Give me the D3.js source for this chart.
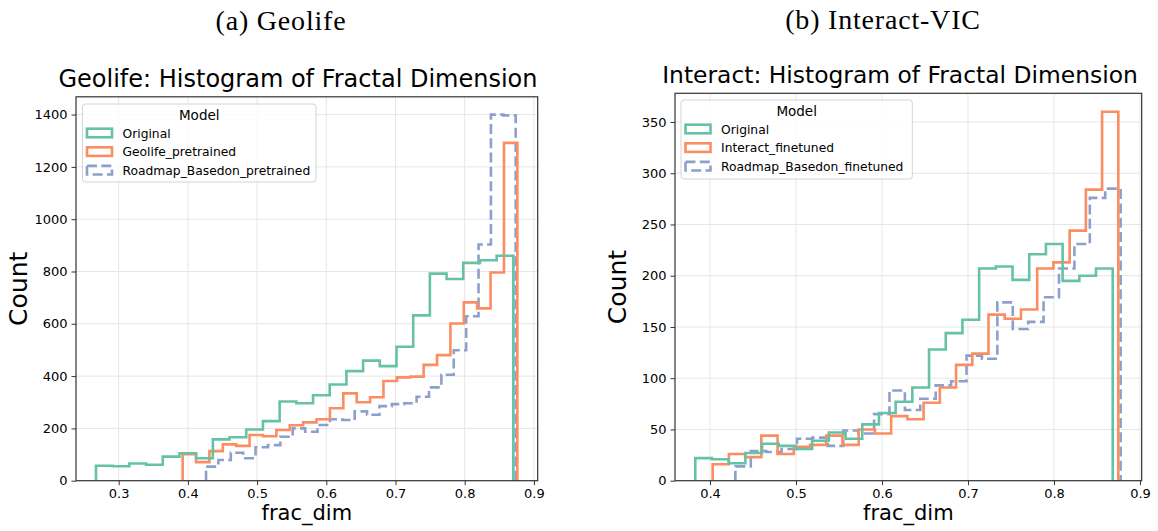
<!DOCTYPE html>
<html>
<head>
<meta charset="utf-8">
<script src="https://cdn.jsdelivr.net/npm/d3@7"></script>
<style>
  html, body { margin: 0; padding: 0; background: #fff; }
  svg { display: block; }
  text { font-family: "DejaVu Sans", sans-serif; fill: #000; }
  .caption { font-family: "Liberation Serif", "DejaVu Serif", serif; }
</style>
</head>
<body>
<svg id="chart" width="1158" height="531"></svg>
<script>
// ---- Geolife panel data ----
const geoSeries = ["Original", "Geolife_pretrained", "Roadmap_Basedon_pretrained"];
// bin range [first edge, last edge] for each series (25 equal-width bins)
const geoRanges = [[0.2672, 0.8703], [0.3924, 0.8761], [0.4262, 0.8737]];
const geoOriginal = [57, 55, 66, 61, 92, 105, 86, 158, 166, 196, 228, 303, 296, 327, 368, 419, 459, 438, 512, 632, 792, 771, 833, 843, 860];
const geoPretrained = [101, 71, 113, 139, 133, 175, 170, 194, 212, 223, 235, 277, 334, 300, 319, 381, 395, 398, 443, 480, 601, 682, 659, 796, 1292];
const geoRoadmap = [54, 79, 107, 86, 128, 136, 168, 200, 187, 213, 235, 232, 265, 252, 285, 293, 296, 321, 357, 405, 499, 629, 903, 1400, 1397];
const geoXTicks = [0.3, 0.4, 0.5, 0.6, 0.7, 0.8, 0.9];
const geoYTicks = [0, 200, 400, 600, 800, 1000, 1200, 1400];
const geoXLimits = [0.2383, 0.9055];
const geoYLimits = [0, 1468];

// ---- Interact-VIC panel data ----
const vicSeries = ["Original", "Interact_finetuned", "Roadmap_Basedon_finetuned"];
const vicRanges = [[0.3829, 0.8683], [0.4031, 0.8748], [0.4295, 0.8775]];
const vicOriginal = [22, 21, 17, 27, 36, 34, 31, 39, 47, 41, 55, 66, 77, 91, 128, 144, 157, 207, 209, 196, 221, 231, 195, 200, 207];
const vicFinetuned = [16, 26, 23, 44, 26, 33, 35, 44, 35, 50, 46, 63, 60, 76, 91, 113, 124, 162, 158, 167, 207, 213, 244, 284, 360];
const vicRoadmap = [14, 29, 28, 31, 41, 42, 34, 49, 46, 65, 88, 69, 80, 93, 97, 122, 119, 174, 148, 155, 179, 207, 231, 276, 285];
const vicXTicks = [0.4, 0.5, 0.6, 0.7, 0.8, 0.9];
const vicYTicks = [0, 50, 100, 150, 200, 250, 300, 350];
const vicXLimits = [0.3593, 0.9020];
const vicYLimits = [0, 378];

// Set2 colours for the three hue levels
const palette = ["#66c2a5", "#fc8d62", "#8da0cb"];

const svg = d3.select("#chart");

function drawPanel(p) {
  const x = d3.scaleLinear().domain(p.xLimits).range([p.left, p.right]);
  const y = d3.scaleLinear().domain(p.yLimits).range([p.bottom, p.top]);
  const g = svg.append("g");

  // grid
  g.append("g").selectAll("line.vx").data(p.xTicks).join("line")
    .attr("x1", d => x(d)).attr("x2", d => x(d))
    .attr("y1", p.top).attr("y2", p.bottom)
    .attr("stroke", "#e6e6e6").attr("stroke-width", 1);
  g.append("g").selectAll("line.hy").data(p.yTicks).join("line")
    .attr("x1", p.left).attr("x2", p.right)
    .attr("y1", d => y(d)).attr("y2", d => y(d))
    .attr("stroke", "#e6e6e6").attr("stroke-width", 1);

  // step outlines, last hue level drawn first
  const line = d3.line().x(d => x(d[0])).y(d => y(d[1]));
  for (let i = p.series.length - 1; i >= 0; i--) {
    const counts = p.counts[i];
    const [lo, hi] = p.ranges[i];
    const edges = d3.range(counts.length + 1).map(k => lo + (hi - lo) * k / counts.length);
    const pts = [[edges[0], 0]];
    counts.forEach((c, k) => { pts.push([edges[k], c]); pts.push([edges[k + 1], c]); });
    pts.push([edges[counts.length], 0]);
    g.append("path").attr("d", line(pts))
      .attr("fill", "none").attr("stroke", palette[i])
      .attr("stroke-width", 2.6).attr("stroke-linejoin", "miter")
      .attr("stroke-dasharray", i === 2 ? "10,4.3" : null);
  }

  // axes
  const xAxis = d3.axisBottom(x).tickValues(p.xTicks).tickFormat(d3.format(".1f")).tickSize(4.5).tickPadding(4);
  const yAxis = d3.axisLeft(y).tickValues(p.yTicks).tickFormat(d3.format("d")).tickSize(4.5).tickPadding(4);
  const xa = g.append("g").attr("transform", `translate(0,${p.bottom})`).call(xAxis);
  const ya = g.append("g").attr("transform", `translate(${p.left},0)`).call(yAxis);
  [xa, ya].forEach(a => {
    a.select(".domain").remove();
    a.selectAll(".tick line").attr("stroke", "#333").attr("stroke-width", 1);
    a.selectAll(".tick text").attr("font-size", 13).attr("font-family", "DejaVu Sans").attr("fill", "#222");
  });

  // spines
  g.append("rect").attr("x", p.left).attr("y", p.top)
    .attr("width", p.right - p.left).attr("height", p.bottom - p.top)
    .attr("fill", "none").attr("stroke", "#333").attr("stroke-width", 1.2);

  // title, axis labels, caption
  g.append("text").attr("x", p.titleX).attr("y", p.titleY).attr("text-anchor", "middle")
    .attr("font-size", p.titleSize).text(p.title);
  g.append("text").attr("x", (p.left + p.right) / 2).attr("y", 520).attr("text-anchor", "middle")
    .attr("font-size", 21).text("frac_dim");
  g.append("text").attr("transform", `translate(${p.left - 49},${(p.top + p.bottom) / 2}) rotate(-90)`)
    .attr("text-anchor", "middle").attr("font-size", 25).text("Count");
  g.append("text").attr("class", "caption").attr("x", p.capX).attr("y", p.capY)
    .attr("text-anchor", "middle").attr("font-size", 28).attr("letter-spacing", 0.8).text(p.caption);

  // legend
  const L = p.legend;
  const lg = g.append("g");
  lg.append("rect").attr("x", L.x).attr("y", L.y).attr("width", L.w).attr("height", L.h)
    .attr("rx", 3).attr("fill", "#fff").attr("fill-opacity", 0.8)
    .attr("stroke", "#d4d4d4").attr("stroke-width", 1);
  lg.append("text").attr("x", L.x + L.w / 2).attr("y", L.y + 16).attr("text-anchor", "middle")
    .attr("font-size", 13.5).text("Model");
  p.series.forEach((s, i) => {
    const cy = L.y + 29 + i * 18.6;
    lg.append("rect").attr("x", L.x + 4.5).attr("y", cy - 4.3).attr("width", 25).attr("height", 8.6)
      .attr("fill", "none").attr("stroke", palette[i]).attr("stroke-width", 2.6)
      .attr("stroke-dasharray", i === 2 ? "10,4.3" : null);
    lg.append("text").attr("x", L.x + 40).attr("y", cy + 4.5).attr("font-size", 12.3).text(s);
  });
}

drawPanel({
  left: 76, right: 537.7, top: 96.8, bottom: 480.7,
  xLimits: geoXLimits, yLimits: geoYLimits, xTicks: geoXTicks, yTicks: geoYTicks,
  series: geoSeries, ranges: geoRanges, counts: [geoOriginal, geoPretrained, geoRoadmap],
  title: "Geolife: Histogram of Fractal Dimension", titleX: 298, titleY: 86.5, titleSize: 24,
  caption: "(a) Geolife", capX: 281, capY: 30,
  legend: { x: 82.5, y: 104, w: 233.5, h: 78 }
});

drawPanel({
  left: 675, right: 1141.7, top: 93.3, bottom: 480.7,
  xLimits: vicXLimits, yLimits: vicYLimits, xTicks: vicXTicks, yTicks: vicYTicks,
  series: vicSeries, ranges: vicRanges, counts: [vicOriginal, vicFinetuned, vicRoadmap],
  title: "Interact: Histogram of Fractal Dimension", titleX: 900, titleY: 83, titleSize: 23.4,
  caption: "(b) Interact-VIC", capX: 883, capY: 28.5,
  legend: { x: 681, y: 100, w: 231.3, h: 79 }
});
</script>
</body>
</html>
